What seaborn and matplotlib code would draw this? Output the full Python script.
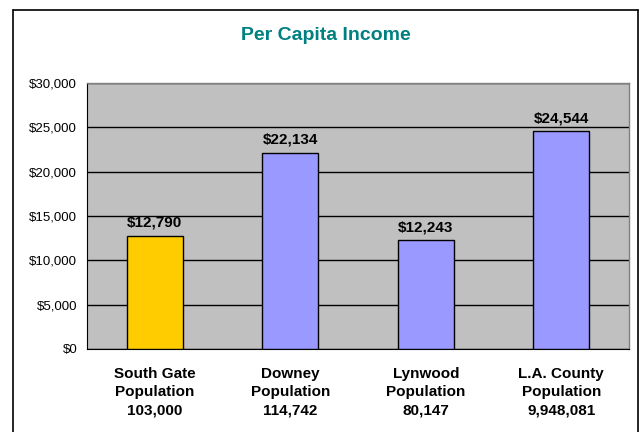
import numpy as np
import matplotlib
matplotlib.use("Agg")
import matplotlib.pyplot as plt
import seaborn as sns
import pandas as pd
from matplotlib.lines import Line2D
from matplotlib.ticker import FuncFormatter

categories = ["South Gate\nPopulation\n103,000", "Downey\nPopulation\n114,742",
              "Lynwood\nPopulation\n80,147", "L.A. County\nPopulation\n9,948,081"]
income = [12790, 22134, 12243, 24544]
bar_colors = ["#FFCC00", "#9999FF", "#9999FF", "#9999FF"]
yticks = [0, 5000, 10000, 15000, 20000, 25000, 30000]

sns.set_style("white")
plt.rcParams['font.family'] = ['Liberation Sans', 'DejaVu Sans']
plt.rcParams['text.color'] = 'black'
plt.rcParams['xtick.color'] = 'black'
plt.rcParams['ytick.color'] = 'black'

df = pd.DataFrame({"cat": categories, "income": income})

fig = plt.figure(figsize=(6.42, 4.32), dpi=100)
ax = fig.add_axes([87 / 642, 83 / 432, 542 / 642, 266 / 432])
ax.set_facecolor("#C0C0C0")

sns.barplot(data=df, x="cat", y="income", hue="cat", palette=bar_colors,
            saturation=1, width=0.41, edgecolor="black", linewidth=1,
            legend=False, ax=ax, zorder=3)

ax.set_ylim(0, 30000)
ax.set_xlim(-0.5, 3.5)
ax.set_yticks(yticks)
ax.yaxis.set_major_formatter(FuncFormatter(lambda v, p: f"${v:,.0f}"))
ax.grid(axis="y", color="black", linewidth=1, zorder=1)
ax.set_axisbelow(True)

for s in ["top", "right"]:
    ax.spines[s].set_color("#808080")
    ax.spines[s].set_linewidth(1)
ax.spines["left"].set_color("black")
ax.spines["bottom"].set_color("black")

ax.set_xticks([-0.5, 0.5, 1.5, 2.5, 3.5], minor=False)
ax.set_xticklabels([])
ax.tick_params(axis="x", direction="out", length=4, color="black", width=1)
ax.set_xticks(range(4), minor=True)
ax.set_xticklabels(categories, minor=True, fontsize=11, fontweight="bold",
                   linespacing=1.4)
ax.tick_params(axis="x", which="minor", length=0, pad=13)
ax.tick_params(axis="y", direction="out", length=4, color="black", width=1,
               labelsize=9.5, pad=3)
ax.set_xlabel("")
ax.set_ylabel("")

for i, v in enumerate(income):
    ax.text(i, v + 700, f"${v:,}", ha="center", va="bottom", fontsize=11,
            fontweight="bold", zorder=4)

fig.text(0.5 * (13 + 638) / 642, 1 - 36 / 432, "Per Capita Income", ha="center",
         va="center", fontsize=14, fontweight="bold", color="#008080")

# chart frame
for xs, ys in [([13 / 642, 13 / 642], [0, 1 - 10 / 432]),
               ([13 / 642, 638 / 642], [1 - 10 / 432, 1 - 10 / 432]),
               ([638 / 642, 638 / 642], [1 - 10 / 432, 0])]:
    fig.add_artist(Line2D(xs, ys, transform=fig.transFigure, color="black",
                          linewidth=1.2))

fig.savefig("out.png", dpi=100)
